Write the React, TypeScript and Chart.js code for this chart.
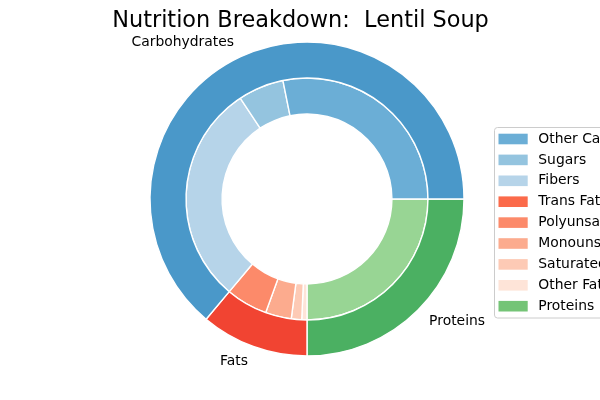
import React, { useEffect, useRef } from 'react';
import { Chart, registerables } from 'chart.js';

Chart.register(...registerables);

const titleText = 'Nutrition Breakdown:  Lentil Soup';

const outerLabels = ['Carbohydrates', 'Fats', 'Proteins'];
const outerValues = [23, 4, 9];
const outerColors = ['#4a98c9', '#f14432', '#4bb062'];

const innerLabels = [
  'Other Carbs',
  'Sugars',
  'Fibers',
  'Trans Fat',
  'Polyunsaturated Fat',
  'Monounsaturated Fat',
  'Saturated Fat',
  'Other Fat',
  'Proteins',
];
const innerValues = [10.15, 2.2, 10.65, 0, 2, 1.25, 0.5, 0.25, 9];
const innerColors = ['#6baed6', '#94c4df', '#b6d4e9', '#fb6a4a', '#fc8a6a', '#fcab8e', '#fdcab5', '#fee4d8', '#98d594'];
const legendColors = ['#6baed6', '#94c4df', '#b6d4e9', '#fb6a4a', '#fc8a6a', '#fcab8e', '#fdcab5', '#fee4d8', '#74c476'];

const FONT = '"DejaVu Sans", sans-serif';

const overlayPlugin = {
  id: 'overlay',
  afterDraw(chart: any) {
    const ctx = chart.ctx as CanvasRenderingContext2D;
    ctx.save();
    // title
    ctx.fillStyle = '#000';
    ctx.font = `22.4px ${FONT}`;
    ctx.textAlign = 'center';
    ctx.textBaseline = 'alphabetic';
    ctx.fillText(titleText, 300.5, 27);

    // outer labels
    const meta = chart.getDatasetMeta(0);
    ctx.font = `13.9px ${FONT}`;
    ctx.textBaseline = 'middle';
    const n = outerLabels.length;
    meta.data.forEach((arc: any, i: number) => {
      const p = arc.getProps(['x', 'y', 'startAngle', 'endAngle', 'outerRadius'], true);
      const mid = (p.startAngle + p.endAngle) / 2;
      const r = p.outerRadius * 1.1;
      const lx = p.x + r * Math.cos(mid);
      const ly = p.y + r * Math.sin(mid);
      const c = Math.cos(mid);
      ctx.textAlign = c > 1e-6 ? 'left' : c < -1e-6 ? 'right' : 'center';
      ctx.fillText(outerLabels[n - 1 - i], lx, ly);
    });

    // legend
    const left = 494.5;
    const top = 127.5;
    const w = 160;
    const h = 190.5;
    const rad = 3;
    ctx.beginPath();
    ctx.moveTo(left + rad, top);
    ctx.lineTo(left + w - rad, top);
    ctx.arcTo(left + w, top, left + w, top + rad, rad);
    ctx.lineTo(left + w, top + h - rad);
    ctx.arcTo(left + w, top + h, left + w - rad, top + h, rad);
    ctx.lineTo(left + rad, top + h);
    ctx.arcTo(left, top + h, left, top + h - rad, rad);
    ctx.lineTo(left, top + rad);
    ctx.arcTo(left, top, left + rad, top, rad);
    ctx.closePath();
    ctx.fillStyle = 'rgba(255,255,255,0.8)';
    ctx.fill();
    ctx.strokeStyle = '#cccccc';
    ctx.lineWidth = 1;
    ctx.stroke();

    ctx.textAlign = 'left';
    ctx.textBaseline = 'middle';
    innerLabels.forEach((lab, i) => {
      const cy = 139 + i * 20.9;
      ctx.fillStyle = legendColors[i];
      ctx.fillRect(498.5, cy - 5.3, 29.2, 10.6);
      ctx.fillStyle = '#000';
      ctx.fillText(lab, 538.3, cy);
    });
    ctx.restore();
  },
};

export default function App() {
  const ref = useRef<HTMLCanvasElement>(null);
  useEffect(() => {
    if (!ref.current) return;
    const rev = <T,>(a: T[]) => a.slice().reverse();
    const chart = new Chart(ref.current, {
      type: 'doughnut',
      data: {
        labels: rev(innerLabels),
        datasets: [
          {
            data: rev(outerValues),
            backgroundColor: rev(outerColors),
            borderColor: '#ffffff',
            borderWidth: 1.4,
          },
          {
            data: rev(innerValues),
            backgroundColor: rev(innerColors),
            borderColor: '#ffffff',
            borderWidth: 1.4,
          },
        ],
      },
      options: {
        responsive: false,
        animation: false,
        events: [],
        rotation: 90,
        radius: 157,
        cutout: '54.1%',
        layout: { padding: { left: 117, right: 103, top: 9, bottom: 11 } },
        plugins: {
          legend: { display: false },
          title: { display: false },
          tooltip: { enabled: false },
        },
      } as any,
      plugins: [overlayPlugin],
    });
    return () => chart.destroy();
  }, []);
  return (
    <canvas
      ref={ref}
      width={600}
      height={400}
      style={{ position: 'fixed', left: 0, top: 0, width: 600, height: 400, background: '#fff' }}
    />
  );
}
